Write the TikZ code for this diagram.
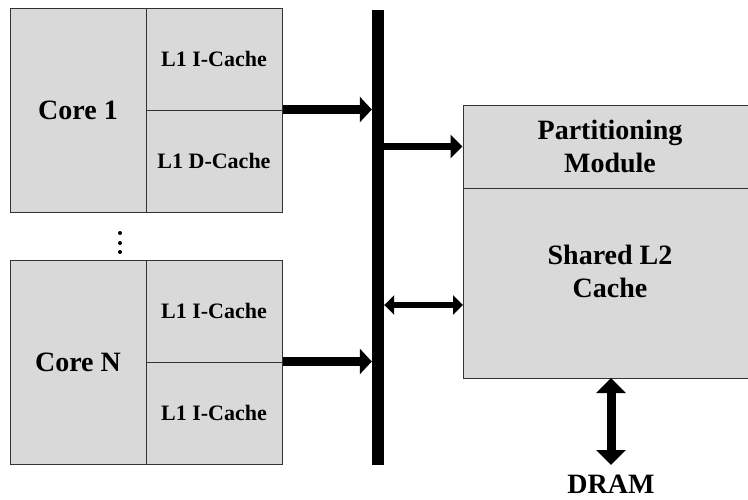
\documentclass[tikz,border=0pt]{standalone}
\usepackage{fontspec}
\setmainfont{Liberation Serif}
\usetikzlibrary{arrows.meta}
\definecolor{boxgray}{HTML}{D9D9D9}
\definecolor{edgegray}{HTML}{333333}
\begin{document}
\begin{tikzpicture}[x=1pt,y=-1pt,
  cell/.style={draw=edgegray,fill=boxgray,line width=1pt,inner sep=0pt,
    minimum width=#1,anchor=center,align=center},
  bigtext/.style={font=\fontsize{28}{33}\selectfont\bfseries},
  smalltext/.style={font=\fontsize{22}{26}\selectfont\bfseries},
  fatarrow/.style={line width=9pt,-{Triangle[length=12pt,width=25pt]}},
  midarrow/.style={line width=7pt,-{Triangle[length=12pt,width=23pt]}},
  thinboth/.style={line width=5.5pt,{Triangle[length=10pt,width=19pt]}-{Triangle[length=10pt,width=19pt]}},
  dramboth/.style={line width=9pt,{Triangle[length=15pt,width=29pt]}-{Triangle[length=15pt,width=29pt]}}]
\useasboundingbox (0,0) rectangle (748,499);
\clip (0,0) rectangle (748,499);

% core 1 with its two L1 caches
\node[cell=136pt,minimum height=204pt,bigtext] (core1) at (78,110) {Core 1};
\node[cell=136pt,minimum height=102pt,smalltext] (l1i) at (214,59) {L1 I-Cache};
\node[cell=136pt,minimum height=102pt,smalltext] (l1d) at (214,161) {L1 D-Cache};

% ellipsis between the cores
\foreach \yy [count=\k] in {233,243,252}
  \fill (120,\yy) circle (2pt) coordinate (dot\k);

% core N with its two L1 caches
\node[cell=136pt,minimum height=204pt,bigtext] (coreN) at (78,362) {Core N};
\node[cell=136pt,minimum height=102pt,smalltext] (l1iN) at (214,311) {L1 I-Cache};
\node[cell=136pt,minimum height=102pt,smalltext] (l1dN) at (214,413) {L1 I-Cache};

% shared bus
\node[fill=black,inner sep=0pt,minimum width=12pt,minimum height=455pt] (bus) at (378,237.5) {};

% partitioning module and shared L2 cache
\node[cell=294pt,minimum height=83pt,bigtext] (pm) at (610,146.5) {Partitioning\\Module};
\node[cell=294pt,minimum height=190pt,bigtext] (l2) at (610,283) {};
\node[bigtext,align=center] (l2text) at (610,271) {Shared L2\\Cache};

% DRAM label
\node[bigtext,inner sep=0pt] (dram) at (611,484) {DRAM};
\coordinate (l2port) at (463,305);
\coordinate (dramtop) at (611,378);
\coordinate (dramend) at (611,465);

% connectors
\draw[fatarrow] (l1d.north east) -- (l1d.north east -| bus.west);
\draw[fatarrow] (l1dN.north east) -- (l1dN.north east -| bus.west);
\draw[midarrow] (pm.west -| bus.east) -- (pm.west);
\draw[thinboth] (l2port -| bus.east) -- (l2port);
\draw[dramboth] (dramtop) -- (dramend);
\end{tikzpicture}
\end{document}
